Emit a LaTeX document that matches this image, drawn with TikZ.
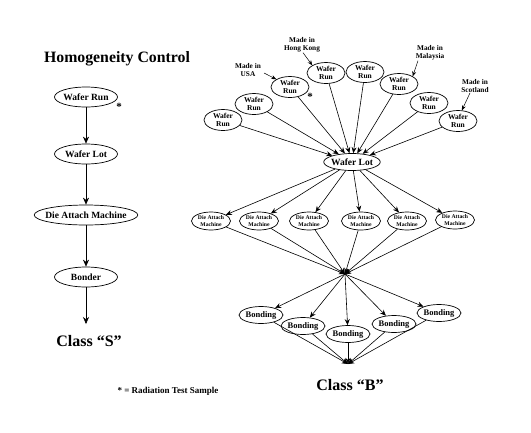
\documentclass[tikz,border=0pt]{standalone}
\usepackage{fontspec}
\setmainfont{Liberation Serif}
\usetikzlibrary{shapes.geometric,arrows.meta}
\begin{document}
\begin{tikzpicture}[x=1pt,y=-1pt,
  ev/.style={draw, ellipse, line width=0.7pt, inner xsep=-4pt, inner ysep=-2pt, align=center, font=\bfseries},
  lnode/.style={ev, minimum width=63, minimum height=20, font=\bfseries\fontsize{9.5}{9.5}\selectfont},
  wrun/.style={ev, minimum width=38, minimum height=21, font=\bfseries\fontsize{7.5}{7.5}\selectfont},
  dam/.style={ev, minimum width=39, minimum height=18, font=\bfseries\fontsize{5.7}{6.3}\selectfont},
  bond/.style={ev, minimum width=44, minimum height=17, font=\bfseries\fontsize{8.5}{8.5}\selectfont},
  made/.style={align=center, inner sep=0pt, font=\bfseries\fontsize{7.3}{8.3}\selectfont},
  arr/.style={-{Stealth[length=6pt,width=5pt]}, line width=0.6pt},
  larr/.style={-{Stealth[length=7pt,width=6pt]}, line width=0.5pt},
  marr/.style={-{Stealth[length=5pt,width=4pt]}, line width=0.5pt},
  ast/.style={font=\bfseries\fontsize{11}{11}\selectfont, inner sep=0pt},
  big/.style={font=\bfseries\fontsize{16}{16}\selectfont}
]
\useasboundingbox (0,0) rectangle (531,432);

% ---------- left column ----------
\node[font=\bfseries\fontsize{15.8}{15.8}\selectfont] (title) at (117,59) {Homogeneity Control};
\node[lnode] (lwr) at (86,97) {Wafer Run};
\node[ast] (ast1) at (119,107) {*};
\node[lnode] (lwl) at (86,154) {Wafer Lot};
\node[lnode, minimum width=102] (lda) at (86,215) {Die Attach Machine};
\node[lnode] (lbo) at (86,277) {Bonder};
\coordinate (lend) at (86,324);
\node[big] (cs) at (89,341) {Class ``S''};
\node[font=\bfseries\fontsize{9}{9}\selectfont] (note) at (168,391) {* = Radiation Test Sample};

\draw[larr] (lwr) -- (lwl);
\draw[larr] (lwl) -- (lda);
\draw[larr] (lda) -- (lbo);
\draw[larr] (lbo) -- (lend);

% ---------- right: wafer runs ----------
\node[wrun] (w1) at (223,120) {Wafer\\Run};
\node[wrun] (w2) at (254,104) {Wafer\\Run};
\node[wrun] (w3) at (290,87) {Wafer\\Run};
\node[wrun] (w4) at (326,73) {Wafer\\Run};
\node[wrun] (w5) at (365,72) {Wafer\\Run};
\node[wrun] (w6) at (399,84) {Wafer\\Run};
\node[wrun] (w7) at (429,103) {Wafer\\Run};
\node[wrun] (w8) at (458,121) {Wafer\\Run};
\node[ast] (ast2) at (310,97) {*};

\node[made] (usa) at (248,70) {Made in\\USA};
\node[made] (hk) at (302,45) {Made in\\Hong Kong};
\node[made] (mal) at (430,53) {Made in\\Malaysia};
\node[made] (sco) at (475,86) {Made in\\Scotland};
\draw[marr] ([xshift=3pt,yshift=-3pt]usa.east) -- (w3.north west);
\draw[marr] ([xshift=1pt]hk.south) -- (w4.north west);
\draw[marr] ([xshift=-12pt]mal.south) -- (w6.north east);
\draw[marr] ([xshift=-5pt]sco.south) -- (w8.70);

\node[ev, minimum width=55, minimum height=17, inner xsep=-1pt, font=\bfseries\fontsize{9.5}{9.5}\selectfont] (wl) at (352,162) {Wafer Lot};
\foreach \i in {1,...,8} \draw[arr] (w\i) -- (wl);

% ---------- die attach machines ----------
\node[dam] (d1) at (211,221) {Die Attach\\Machine};
\node[dam] (d2) at (259,221) {Die Attach\\Machine};
\node[dam] (d3) at (309,221) {Die Attach\\Machine};
\node[dam] (d4) at (361,221) {Die Attach\\Machine};
\node[dam] (d5) at (407,221) {Die Attach\\Machine};
\node[dam] (d6) at (455,220) {Die Attach\\Machine};
\foreach \i in {1,...,6} \draw[arr] (wl) -- (d\i);

\coordinate (c1) at (345,274);
\foreach \i in {1,...,6} \draw[arr] (d\i) -- (c1);

% ---------- bonding ----------
\node[bond] (b1) at (261,315) {Bonding};
\node[bond] (b2) at (303,326) {Bonding};
\node[bond] (b3) at (348,334) {Bonding};
\node[bond] (b4) at (394,324) {Bonding};
\node[bond] (b5) at (439,313) {Bonding};
\foreach \i in {1,...,5} \draw[arr] (c1) -- (b\i);

\coordinate (c2) at (348,364);
\foreach \i in {1,...,5} \draw[arr] (b\i) -- (c2);
\node[big] (cb) at (350,385) {Class ``B''};
\end{tikzpicture}
\end{document}
